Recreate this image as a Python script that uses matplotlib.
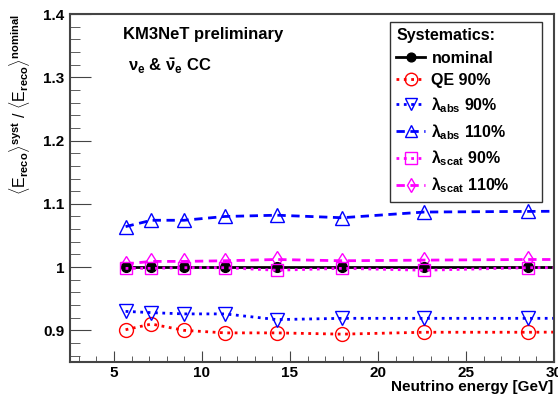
import numpy as np
import matplotlib
matplotlib.use("Agg")
import matplotlib.pyplot as plt

plt.rcParams['font.family'] = ['Liberation Sans', 'DejaVu Sans']
plt.rcParams['font.weight'] = 'bold'
plt.rcParams['mathtext.fontset'] = 'custom'
plt.rcParams['mathtext.rm'] = 'Liberation Sans:bold'
plt.rcParams['mathtext.it'] = 'Liberation Sans:bold'
plt.rcParams['mathtext.bf'] = 'Liberation Sans:bold'

# neutrino energy bins (last point sits outside the visible range)
energy = [5.66, 7.13, 8.98, 11.31, 14.25, 17.96, 22.63, 28.51, 35.92]

nominal = [1.0, 1.0, 1.0, 1.0, 1.0, 1.0, 1.0, 1.0, 1.0]
qe_90 = [0.901, 0.910, 0.900, 0.896, 0.896, 0.894, 0.897, 0.897, 0.898]
abs_90 = [0.930, 0.928, 0.926, 0.926, 0.917, 0.919, 0.919, 0.919, 0.919]
abs_110 = [1.064, 1.074, 1.074, 1.080, 1.082, 1.078, 1.087, 1.088, 1.089]
scat_90 = [0.998, 0.998, 0.999, 0.999, 0.995, 0.998, 0.995, 0.999, 0.999]
scat_110 = [1.005, 1.009, 1.009, 1.010, 1.012, 1.010, 1.011, 1.012, 1.012]

fig = plt.figure(figsize=(5.58, 3.96), dpi=100)
ax = fig.add_axes([0.1254, 0.0859, 0.8674, 0.8787])

ax.plot(energy, qe_90, color="red", ls=":", lw=2, marker="o", ms=10,
        mfc="none", mec="red", mew=1, label="QE 90%")
ax.plot(energy, abs_90, color="blue", ls=":", lw=2, marker="v", ms=10,
        mfc="none", mec="blue", mew=1, label=r"$\lambda_{abs}$ 90%")
ax.plot(energy, abs_110, color="blue", ls=(0, (3, 2)), lw=2, marker="^", ms=10,
        mfc="none", mec="blue", mew=1, label=r"$\lambda_{abs}$ 110%")
ax.plot(energy, scat_110, color="magenta", ls=(0, (3, 2)), lw=2, marker="d", ms=8,
        mfc="none", mec="magenta", mew=1, label=r"$\lambda_{scat}$ 110%")
ax.plot(energy, nominal, color="black", ls="-", lw=2, marker="o", ms=7,
        mfc="black", mec="black", label="nominal")
ax.plot(energy, scat_90, color="magenta", ls=":", lw=2, marker="s", ms=9,
        mfc="none", mec="magenta", mew=1, label=r"$\lambda_{scat}$ 90%")

ax.set_xlim(2.5, 30)
ax.set_ylim(0.85, 1.4)
ax.set_xticks([5, 10, 15, 20, 25, 30])
ax.set_xticks(np.arange(3, 30, 1), minor=True)
ax.set_yticks([0.9, 1.0, 1.1, 1.2, 1.3, 1.4])
ax.set_yticklabels(["0.9", "1", "1.1", "1.2", "1.3", "1.4"])
ax.set_yticks(np.arange(0.86, 1.4, 0.02), minor=True)
ax.tick_params(axis="both", which="both", direction="in", labelsize=11,
               top=False, right=False, color="#444444")
ax.tick_params(axis="x", which="major", length=8, pad=3)
ax.tick_params(axis="x", which="minor", length=4)
ax.tick_params(axis="y", which="major", length=15, pad=4)
ax.tick_params(axis="y", which="minor", length=7)
for s in ax.spines.values():
    s.set_color("#444444")
    s.set_linewidth(1.5)

fig.text(0.991, 0.022, "Neutrino energy [GeV]", fontsize=11,
         ha="right", va="center")
ax.set_ylabel(r"$\langle$E$_{reco}\rangle^{syst}$ / $\langle$E$_{reco}\rangle^{nominal}$",
              fontsize=11.5, loc="top", labelpad=8)

ax.text(0.11, 0.94, "KM3NeT preliminary", transform=ax.transAxes,
        fontsize=12, va="center", ha="left")
ax.text(0.12, 0.85, r"$\nu_e$ & $\bar{\nu}_e$ CC", transform=ax.transAxes,
        fontsize=12, va="center", ha="left")

h, l = ax.get_legend_handles_labels()
order = ["nominal", "QE 90%", r"$\lambda_{abs}$ 90%", r"$\lambda_{abs}$ 110%",
         r"$\lambda_{scat}$ 90%", r"$\lambda_{scat}$ 110%"]
hh = [h[l.index(o)] for o in order]
leg = ax.legend(hh, order, title="Systematics:", loc="upper left",
                bbox_to_anchor=(0.661, 0.5, 0.314, 0.477), mode="expand",
                fontsize=11.5,
                title_fontproperties={"weight": "bold", "size": 11.5},
                frameon=True, fancybox=False, edgecolor="black",
                handlelength=1.8, handletextpad=0.4, labelspacing=0.45,
                borderpad=0.4, borderaxespad=0, markerscale=0.9)
leg._legend_box.align = "left"
leg.get_frame().set_linewidth(1.0)

fig.savefig("out.png", dpi=100)
